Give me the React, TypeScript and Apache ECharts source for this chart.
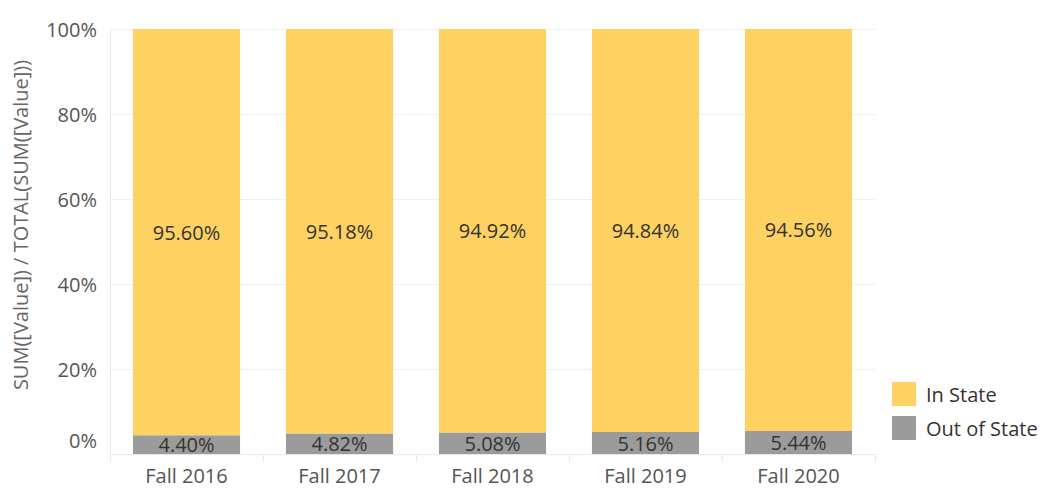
import React, { useEffect, useRef } from "react";
import * as echarts from "echarts";

const categories = ["Fall 2016", "Fall 2017", "Fall 2018", "Fall 2019", "Fall 2020"];
const inState = [95.6, 95.18, 94.92, 94.84, 94.56];
const outOfState = [4.4, 4.82, 5.08, 5.16, 5.44];
const yTicks = [0, 20, 40, 60, 80, 100];

const FONT = "'Open Sans', 'Noto Sans', sans-serif";

export default function App() {
  const ref = useRef<HTMLDivElement>(null);
  useEffect(() => {
    if (!ref.current) return;
    const chart = echarts.init(ref.current, undefined, { renderer: "svg" });
    chart.setOption({
      animation: false,
      backgroundColor: "#ffffff",
      textStyle: { fontFamily: FONT },
      grid: { left: 110, right: 168, top: 29, bottom: 35, containLabel: false },
      legend: {
        orient: "vertical",
        left: 892,
        top: 382,
        padding: 0,
        itemWidth: 24,
        itemHeight: 24,
        itemGap: 10,
        icon: "rect",
        data: ["In State", "Out of State"],
        textStyle: { fontFamily: FONT, fontSize: 20, color: "#333", padding: [0, 0, 0, 5] },
      },
      xAxis: {
        type: "category",
        data: categories,
        axisLine: { show: true, lineStyle: { color: "#e8e8e8" } },
        axisTick: { show: true, length: 8, lineStyle: { color: "#e8e8e8" } },
        axisLabel: { fontFamily: FONT, fontSize: 20, color: "#555", margin: 11 },
      },
      yAxis: {
        type: "value",
        min: 0,
        max: 100,
        interval: 20,
        name: "SUM([Value]) / TOTAL(SUM([Value]))",
        nameLocation: "middle",
        nameGap: 80,
        nameTextStyle: { fontFamily: FONT, fontSize: 20, color: "#666", padding: [0, 0, 0, 33] },
        axisLine: { show: true, lineStyle: { color: "#e8e8e8" } },
        axisTick: { show: false },
        splitLine: { show: true, lineStyle: { color: "#f0f0f0" } },
        axisLabel: {
          fontFamily: FONT,
          fontSize: 20,
          color: "#555",
          margin: 13,
          formatter: (v: number) => (v === yTicks[0] ? "{z|" + v + "%}" : v + "%"),
          rich: {
            z: { fontFamily: FONT, fontSize: 20, color: "#555", padding: [0, 0, 28, 0] },
          },
        },
      },
      series: [
        {
          name: "Out of State",
          type: "bar",
          stack: "total",
          data: outOfState,
          barWidth: "70%",
          itemStyle: { color: "#9b9b9b" },
          label: {
            show: true,
            position: "inside",
            formatter: (p: any) => p.value.toFixed(2) + "%",
            fontFamily: FONT,
            fontSize: 20,
            color: "#333",
          },
        },
        {
          name: "In State",
          type: "bar",
          stack: "total",
          data: inState,
          barWidth: "70%",
          itemStyle: { color: "#fdd262" },
          label: {
            show: true,
            position: "inside",
            formatter: (p: any) => p.value.toFixed(2) + "%",
            fontFamily: FONT,
            fontSize: 20,
            color: "#333",
          },
        },
      ],
    });
    return () => chart.dispose();
  }, []);
  return <div ref={ref} style={{ width: 1043, height: 489, position: "absolute", left: 0, top: 0 }} />;
}
